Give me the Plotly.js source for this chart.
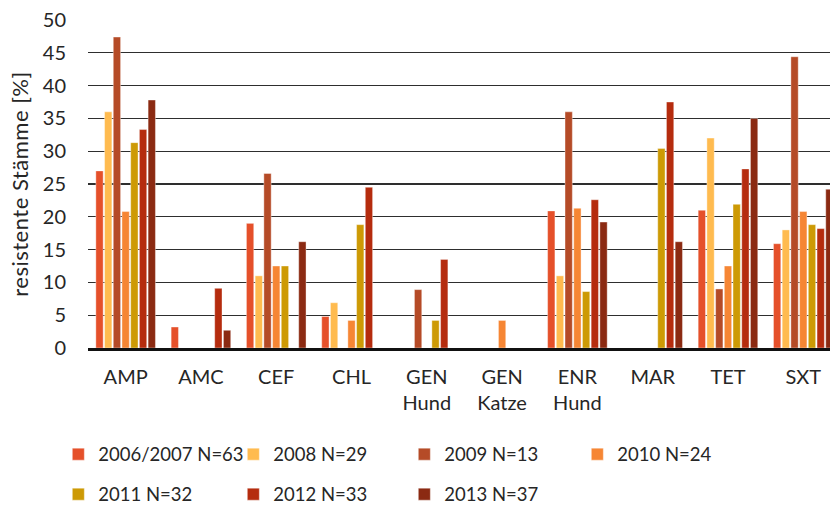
<!DOCTYPE html>
<html>
<head>
<meta charset="utf-8">
<script src="https://cdn.plot.ly/plotly-3.0.1.min.js"></script>
<style>
  html, body { margin: 0; padding: 0; background: #fff; }
  #chart { width: 830px; height: 506px; }
  /* slightly wider tracking for the rotated axis title */
  #chart .ytitle { letter-spacing: 0.5px; }
</style>
</head>
<body>
<div id="chart"></div>
<script>
// Antibiotics tested (x categories)
const categories = ['AMP', 'AMC', 'CEF', 'CHL', 'GEN<br>Hund', 'GEN<br>Katze', 'ENR<br>Hund', 'MAR', 'TET', 'SXT'];

// Share of resistant strains in % per study year (null = no resistant strains)
const seriesNames = ['2006/2007 N=63', '2008 N=29', '2009 N=13', '2010 N=24', '2011 N=32', '2012 N=33', '2013 N=37'];
const y2006 = [27.0, 3.2, 19.0, 4.8, null, null, 20.9, null, 21.0, 15.9];
const y2008 = [36.0, null, 11.0, 6.9, null, null, 11.0, null, 32.0, 18.0];
const y2009 = [47.4, null, 26.6, null, 8.9, null, 36.0, null, 9.0, 44.4];
const y2010 = [20.8, null, 12.5, 4.2, null, 4.2, 21.3, null, 12.5, 20.8];
const y2011 = [31.3, null, 12.5, 18.8, 4.2, null, 8.6, 30.4, 21.9, 18.8];
const y2012 = [33.3, 9.1, null, 24.5, 13.5, null, 22.6, 37.5, 27.3, 18.2];
const y2013 = [37.8, 2.7, 16.2, null, null, null, 19.2, 16.2, 35.0, 24.2];

const seriesValues = [y2006, y2008, y2009, y2010, y2011, y2012, y2013];
const seriesColors = ['#E5502A', '#FFBB4F', '#B54B27', '#F68634', '#CD9A05', '#B52C0E', '#8B2A12'];

// legend column widths (px) so the entries line up in two rows
const legendColumnWidths = [130, 126, 128, 128];

const FONT = 'Lato, "Open Sans", sans-serif';
const TEXT = '#262626';

// First four years in the upper legend row, the rest in the lower one
const traces = seriesValues.map((vals, i) => ({
  type: 'bar',
  name: seriesNames[i],
  x: categories,
  y: vals,
  legend: i < 4 ? 'legend' : 'legend2',
  legendwidth: legendColumnWidths[i % 4],
  marker: {
    color: seriesColors[i],
    line: { color: 'rgba(255,255,255,0.55)', width: 0.7 }
  },
  hoverinfo: 'x+y+name'
}));

const legendCommon = {
  orientation: 'h',
  xanchor: 'left',
  yanchor: 'middle',
  x: -0.04,
  entrywidthmode: 'pixels',
  font: { family: FONT, size: 18.5, color: TEXT },
  bgcolor: 'rgba(0,0,0,0)',
  traceorder: 'normal'
};

const layout = {
  width: 830,
  height: 506,
  margin: { l: 88, r: 0, t: 20, b: 158, autoexpand: false },
  paper_bgcolor: '#fff',
  plot_bgcolor: '#fff',
  font: { family: FONT, size: 20, color: TEXT },
  barmode: 'group',
  bargap: 0.19,
  bargroupgap: 0.16,
  showlegend: true,
  legend: Object.assign({}, legendCommon, { y: -0.325 }),
  legend2: Object.assign({}, legendCommon, { y: -0.447 }),
  xaxis: {
    type: 'category',
    range: [-0.5, 9.355],
    showgrid: false,
    showline: true,
    linecolor: '#111',
    linewidth: 2.5,
    ticks: '',
    ticklabelstandoff: 9,
    tickfont: { family: FONT, size: 20, color: TEXT },
    fixedrange: true
  },
  yaxis: {
    range: [0, 50],
    dtick: 5,
    tick0: 0,
    showgrid: true,
    gridcolor: '#2e2e2e',
    gridwidth: 1.2,
    zeroline: false,
    showline: false,
    ticks: '',
    ticklabelstandoff: 21,
    tickfont: { family: FONT, size: 20, color: TEXT },
    title: {
      text: 'resistente Stämme [%]',
      standoff: 8,
      font: { family: FONT, size: 22, color: TEXT }
    },
    fixedrange: true
  }
};

Plotly.newPlot('chart', traces, layout, { displayModeBar: false, staticPlot: true });
</script>
</body>
</html>
